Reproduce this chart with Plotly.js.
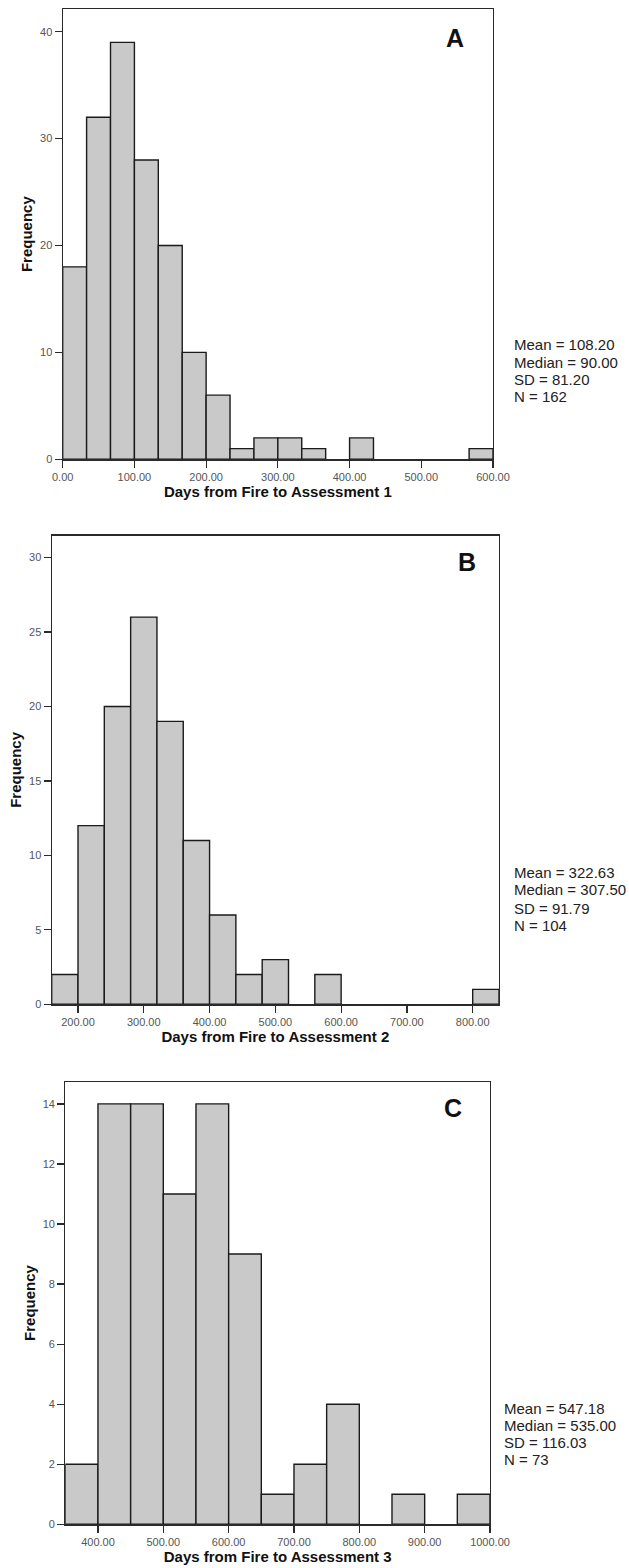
<!DOCTYPE html>
<html>
<head>
<meta charset="utf-8">
<script src="https://cdn.plot.ly/plotly-3.0.1.min.js"></script>
<style>
html,body{margin:0;padding:0;background:#fff;}
#chart{width:629px;height:1568px;}
</style>
</head>
<body>
<div id="chart"></div>
<script>
// ---- Data ----
// Panel A: Days from Fire to Assessment 1 (bin edges, counts)
const binEdgesA = [0, 33.33, 66.67, 100, 133.33, 166.67, 200, 233.33, 266.67, 300, 333.33, 366.67, 400, 433.33, 466.67, 500, 533.33, 566.67, 600];
const countsA   = [18, 32, 39, 28, 20, 10, 6, 1, 2, 2, 1, 0, 2, 0, 0, 0, 0, 1];
const statsA    = ["Mean = 108.20", "Median = 90.00", "SD = 81.20", "N = 162"];
const titleA    = "Days from Fire to Assessment 1";

// Panel B: Days from Fire to Assessment 2
const binEdgesB = [160, 200, 240, 280, 320, 360, 400, 440, 480, 520, 560, 600, 640, 680, 720, 760, 800, 840];
const countsB   = [2, 12, 20, 26, 19, 11, 6, 2, 3, 0, 2, 0, 0, 0, 0, 0, 1];
const statsB    = ["Mean = 322.63", "Median = 307.50", "SD = 91.79", "N = 104"];
const titleB    = "Days from Fire to Assessment 2";

// Panel C: Days from Fire to Assessment 3
const binEdgesC = [350, 400, 450, 500, 550, 600, 650, 700, 750, 800, 850, 900, 950, 1000];
const countsC   = [2, 14, 14, 11, 14, 9, 1, 2, 4, 0, 1, 0, 1];
const statsC    = ["Mean = 547.18", "Median = 535.00", "SD = 116.03", "N = 73"];
const titleC    = "Days from Fire to Assessment 3";

const panelLetters = ["A", "B", "C"];
const yTitle = "Frequency";

// ---- Layout helpers (pixel geometry of the 629x1568 page) ----
const W = 629, H = 1568;
const px = x => x / W;
const py = y => 1 - y / H;

const FONT = "Arial, 'Liberation Sans', Helvetica, sans-serif";
const LINE = "#2a2a2a";
const FILL = "#c9c9c9";

function barTrace(edges, counts, xa, ya) {
  const xs = [], ys = [], ws = [];
  for (let i = 0; i < counts.length; i++) {
    if (counts[i] === 0) continue;
    xs.push((edges[i] + edges[i + 1]) / 2);
    ws.push(edges[i + 1] - edges[i]);
    ys.push(counts[i]);
  }
  return {
    type: "bar", x: xs, y: ys, width: ws, xaxis: xa, yaxis: ya,
    marker: {color: FILL, line: {color: "#1a1a1a", width: 1.4}},
    hoverinfo: "skip", showlegend: false
  };
}

function xAxis(domPx, range, title, anchor) {
  return {
    domain: [px(domPx[0]), px(domPx[1])], anchor: anchor,
    range: range, autorange: false, tick0: 0, dtick: 100, tickformat: ".2f",
    ticks: "outside", ticklen: 7, tickwidth: 1.2, tickcolor: LINE,
    showline: true, linecolor: LINE, linewidth: 1.2, mirror: true,
    showgrid: false, zeroline: false,
    tickfont: {family: FONT, size: 11, color: "#555"},
    title: {text: title, standoff: 4, font: {family: FONT, size: 15, color: "#111", weight: "bold"}}
  };
}

function yAxis(domPx, range, dtick, anchor) {
  return {
    domain: [py(domPx[1]), py(domPx[0])], anchor: anchor,
    range: range, autorange: false, tick0: 0, dtick: dtick,
    ticks: "outside", ticklen: 7, tickwidth: 1.2, tickcolor: LINE,
    showline: true, linecolor: LINE, linewidth: 1.2, mirror: true,
    showgrid: false, zeroline: false,
    tickfont: {family: FONT, size: 11, color: "#555"},
    title: {text: yTitle, standoff: 3, font: {family: FONT, size: 15, color: "#111", weight: "bold"}}
  };
}

const data = [
  barTrace(binEdgesA, countsA, "x", "y"),
  barTrace(binEdgesB, countsB, "x2", "y2"),
  barTrace(binEdgesC, countsC, "x3", "y3")
];

const annotations = [];
function letter(t, x, y) {
  annotations.push({text: t, xref: "paper", yref: "paper", x: px(x), y: py(y),
    xanchor: "center", yanchor: "middle", showarrow: false,
    font: {family: FONT, size: 25, color: "#111", weight: "bold"}});
}
function stats(lines, x, ys) {
  lines.forEach((t, i) => annotations.push({text: t, xref: "paper", yref: "paper",
    x: px(x), y: py(ys[i]), xanchor: "left", yanchor: "middle", showarrow: false,
    font: {family: FONT, size: 15, color: "#222"}}));
}
letter(panelLetters[0], 455, 38);
letter(panelLetters[1], 467, 562);
letter(panelLetters[2], 453, 1108);
stats(statsA, 512, [345, 362, 379.5, 397]);
stats(statsB, 511.5, [872, 890, 908.3, 926]);
stats(statsC, 502, [1408.3, 1425.7, 1442.5, 1459.5]);

const layout = {
  width: W, height: H,
  margin: {l: 0, r: 0, t: 0, b: 0, pad: 0},
  paper_bgcolor: "#fff", plot_bgcolor: "#fff",
  barmode: "overlay", showlegend: false,
  font: {family: FONT},
  xaxis:  xAxis([62.7, 493], [0, 600], titleA, "y"),
  yaxis:  yAxis([9, 459.3], [0, 42.12], 10, "x"),
  xaxis2: xAxis([51.7, 499], [160, 840], titleB, "y2"),
  yaxis2: yAxis([535.5, 1004.3], [0, 31.48], 5, "x2"),
  xaxis3: xAxis([65.3, 490], [350, 1000], titleC, "y3"),
  yaxis3: yAxis([1081.7, 1524.3], [0, 14.74], 2, "x3"),
  annotations: annotations
};

Plotly.newPlot("chart", data, layout, {staticPlot: true, displayModeBar: false});
</script>
</body>
</html>
